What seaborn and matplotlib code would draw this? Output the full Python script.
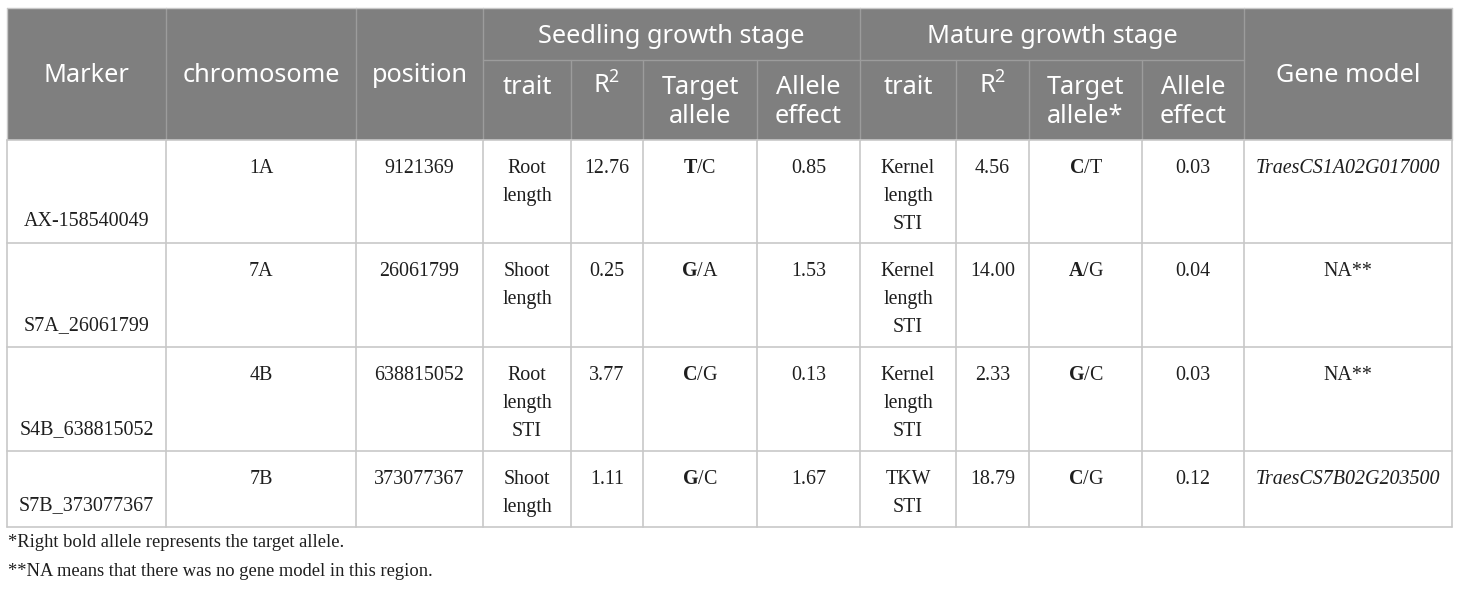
import matplotlib
matplotlib.use("Agg")
import matplotlib.pyplot as plt
import seaborn as sns

# Datos de la tabla
markers = ["AX-158540049", "S7A_26061799", "S4B_638815052", "S7B_373077367"]
chromosomes = ["1A", "7A", "4B", "7B"]
positions = ["9121369", "26061799", "638815052", "373077367"]
seed_trait = ["Root\nlength", "Shoot\nlength", "Root\nlength\nSTI", "Shoot\nlength"]
seed_r2 = [12.76, 0.25, 3.77, 1.11]
seed_allele = [("T", "C"), ("G", "A"), ("C", "G"), ("G", "C")]
seed_effect = [0.85, 1.53, 0.13, 1.67]
mat_trait = ["Kernel\nlength\nSTI", "Kernel\nlength\nSTI", "Kernel\nlength\nSTI", "TKW\nSTI"]
mat_r2 = [4.56, 14.00, 2.33, 18.79]
mat_allele = [("C", "T"), ("A", "G"), ("G", "C"), ("C", "G")]
mat_effect = [0.03, 0.04, 0.03, 0.12]
gene_model = ["TraesCS1A02G017000", "NA**", "NA**", "TraesCS7B02G203500"]

top_headers = ["Marker", "chromosome", "position"]
groups = ["Seedling growth stage", "Mature growth stage"]
seed_headers = ["trait", r"R$^{\mathsf{2}}$", "Target\nallele", "Allele\neffect"]
mat_headers = ["trait", r"R$^{\mathsf{2}}$", "Target\nallele*", "Allele\neffect"]
last_header = "Gene model"
footnotes = ["*Right bold allele represents the target allele.",
             "**NA means that there was no gene model in this region."]

# Estilo
sns.set_theme(style="white")
plt.rcParams["mathtext.fontset"] = "custom"
plt.rcParams["mathtext.rm"] = "Liberation Serif"
plt.rcParams["mathtext.bf"] = "Liberation Serif:bold"
plt.rcParams["mathtext.sf"] = "Noto Sans"

# Geometria (pixeles)
xs = [7, 166, 356, 483, 571, 643, 757, 860, 956, 1029, 1142, 1244, 1452]
y_top, y_mid, y_head = 8, 60, 140
row_edges = [140, 243, 347, 451, 527]
head_col = "#7f7f7f"
grid_col = "#c8c8c8"
head_line = "#9c9c9c"
txt_col = "#1e1e1e"
serif = "Liberation Serif"
sans = "Noto Sans"
fs_body = 14.4
fs_head = 18.2

fig = plt.figure(figsize=(14.6, 5.89), dpi=100)
ax = fig.add_axes([0, 0, 1, 1])
ax.set_xlim(0, 1460)
ax.set_ylim(589, 0)
ax.axis("off")

# Cabecera gris
ax.fill_between([xs[0], xs[-1]], y_top, y_head, color=head_col, lw=0)
# lineas internas de la cabecera
ax.plot([xs[3], xs[11]], [y_mid, y_mid], color=head_line, lw=1)
for i in range(1, 12):
    y0 = y_top if i in (1, 2, 3, 7, 11) else y_mid
    ax.plot([xs[i], xs[i]], [y0, y_head], color=head_line, lw=1)
ax.plot([xs[0], xs[-1]], [y_top, y_top], color=grid_col, lw=1)

# Rejilla del cuerpo
for y in row_edges:
    ax.plot([xs[0], xs[-1]], [y, y], color=grid_col, lw=1.2)
for x in xs:
    ax.plot([x, x], [row_edges[0], row_edges[-1]], color=grid_col, lw=1.2)
ax.plot([xs[0], xs[0]], [y_top, y_head], color=grid_col, lw=1)
ax.plot([xs[-1], xs[-1]], [y_top, y_head], color=grid_col, lw=1)


def cx(i):
    return (xs[i] + xs[i + 1]) / 2


# Textos de cabecera
for i, h in enumerate(top_headers):
    ax.text(cx(i), 82, h, ha="center", va="baseline", color="white",
            fontsize=fs_head, family=sans)
ax.text(cx(11), 82, last_header, ha="center", va="baseline", color="white",
        fontsize=fs_head, family=sans)
ax.text((xs[3] + xs[7]) / 2, 43, groups[0], ha="center", va="baseline",
        color="white", fontsize=fs_head, family=sans)
ax.text((xs[7] + xs[11]) / 2, 43, groups[1], ha="center", va="baseline",
        color="white", fontsize=fs_head, family=sans)
for k, hdrs in enumerate([seed_headers, mat_headers]):
    for j, h in enumerate(hdrs):
        for n, line in enumerate(h.split("\n")):
            ax.text(cx(3 + 4 * k + j), 94 + 29 * n, line, ha="center",
                    va="baseline", color="white", fontsize=fs_head, family=sans)


def cell(i, y0, txt, style="normal"):
    for n, line in enumerate(txt.split("\n")):
        ax.text(cx(i), y0 + 33 + 28 * n, line, ha="center", va="baseline",
                color=txt_col, fontsize=fs_body, family=serif, style=style)


# Filas de datos
for r in range(len(markers)):
    y0, y1 = row_edges[r], row_edges[r + 1]
    ax.text(cx(0), y1 - 17, markers[r], ha="center", va="baseline",
            color=txt_col, fontsize=fs_body, family=serif)
    cell(1, y0, chromosomes[r])
    cell(2, y0, positions[r])
    cell(3, y0, seed_trait[r])
    cell(4, y0, f"{seed_r2[r]:.2f}")
    cell(5, y0, r"$\mathbf{%s}$/%s" % seed_allele[r])
    cell(6, y0, f"{seed_effect[r]:.2f}")
    cell(7, y0, mat_trait[r])
    cell(8, y0, f"{mat_r2[r]:.2f}")
    cell(9, y0, r"$\mathbf{%s}$/%s" % mat_allele[r])
    cell(10, y0, f"{mat_effect[r]:.2f}")
    cell(11, y0, gene_model[r], style="italic" if gene_model[r].startswith("Traes") else "normal")

# Notas al pie
for n, note in enumerate(footnotes):
    ax.text(8, 547 + 29 * n, note, ha="left", va="baseline", color=txt_col,
            fontsize=13.3, family=serif)

fig.savefig("out.png", dpi=100)
